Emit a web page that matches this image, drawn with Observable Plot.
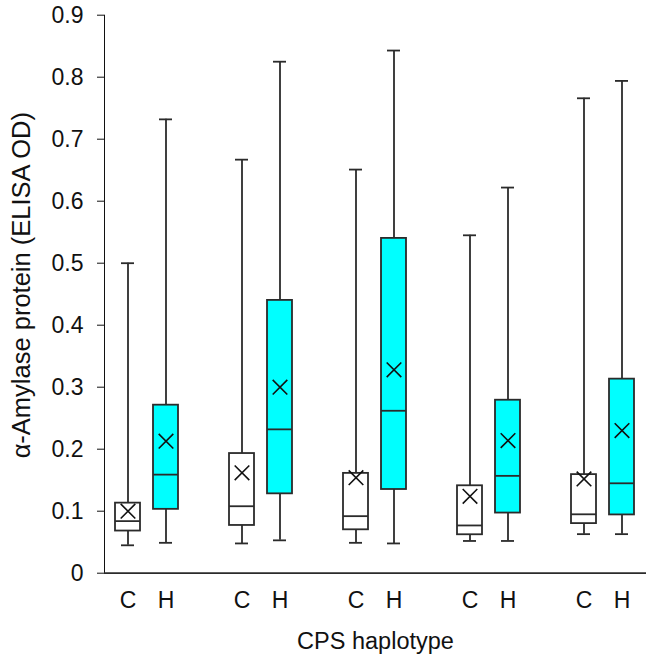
<!DOCTYPE html>
<html>
<head>
<meta charset="utf-8">
<script src="https://cdn.jsdelivr.net/npm/d3@7"></script>
<script src="https://cdn.jsdelivr.net/npm/@observablehq/plot@0.6"></script>
<style>
  html, body { margin: 0; padding: 0; background: #fff; }
  #chart { width: 646px; height: 658px; }
</style>
</head>
<body>
<div id="chart"></div>
<script>
const groups = ["1", "2", "3", "4", "5"];
const haplotypes = ["C", "H"];
const yTicks = [0, 0.1, 0.2, 0.3, 0.4, 0.5, 0.6, 0.7, 0.8, 0.9];

// C haplotype
const cMin    = [0.045, 0.048, 0.049, 0.052, 0.063];
const cQ1     = [0.068, 0.077, 0.070, 0.062, 0.080];
const cMedian = [0.084, 0.108, 0.092, 0.077, 0.095];
const cQ3     = [0.113, 0.193, 0.161, 0.141, 0.159];
const cMax    = [0.500, 0.667, 0.651, 0.545, 0.766];
const cMean   = [0.100, 0.162, 0.154, 0.124, 0.152];

// H haplotype
const hMin    = [0.049, 0.053, 0.048, 0.052, 0.063];
const hQ1     = [0.103, 0.128, 0.135, 0.097, 0.094];
const hMedian = [0.159, 0.232, 0.262, 0.157, 0.145];
const hQ3     = [0.271, 0.440, 0.540, 0.279, 0.313];
const hMax    = [0.732, 0.825, 0.843, 0.622, 0.794];
const hMean   = [0.213, 0.300, 0.328, 0.214, 0.230];

const stats = {
  C: {min: cMin, q1: cQ1, median: cMedian, q3: cQ3, max: cMax, mean: cMean},
  H: {min: hMin, q1: hQ1, median: hMedian, q3: hQ3, max: hMax, mean: hMean}
};

const rows = groups.flatMap((g, i) => haplotypes.map(h => ({
  slot: g + h, hap: h,
  min: stats[h].min[i], q1: stats[h].q1[i], median: stats[h].median[i],
  q3: stats[h].q3[i], max: stats[h].max[i], mean: stats[h].mean[i]
})));

// slot domain: C, H, spacer for each group (no spacer after the last)
const slots = groups.flatMap((g, i) =>
  i < groups.length - 1 ? [g + "C", g + "H", g + "_"] : [g + "C", g + "H"]);
const realSlots = rows.map(d => d.slot);

const ink = "#2b2b2b";
const sw = 1.8;

const chart = Plot.plot({
  width: 646,
  height: 658,
  marginLeft: 104,
  marginRight: 0,
  marginTop: 14.7,
  marginBottom: 85.3,
  style: {fontFamily: "'Liberation Sans', Arial, sans-serif", fontSize: "23px", color: "#111", background: "white"},
  x: {type: "band", domain: slots, paddingInner: 0.33, paddingOuter: 0.15,
      ticks: realSlots, tickFormat: s => s.slice(-1), tickSize: 0, tickPadding: 18, label: null},
  y: {domain: [0, 0.9], ticks: yTicks, tickFormat: d => d === 0 ? "0" : d.toFixed(1),
      tickSize: 7, tickPadding: 14, line: true, label: null},
  color: {domain: haplotypes, range: ["white", "#00ffff"]},
  marks: [
    Plot.ruleY([0], {stroke: ink, strokeWidth: sw}),
    Plot.ruleX(rows, {x: "slot", y1: "min", y2: "q1", stroke: ink, strokeWidth: sw}),
    Plot.ruleX(rows, {x: "slot", y1: "q3", y2: "max", stroke: ink, strokeWidth: sw}),
    Plot.tickY(rows, {x: "slot", y: "min", insetLeft: 6, insetRight: 6, stroke: ink, strokeWidth: sw}),
    Plot.tickY(rows, {x: "slot", y: "max", insetLeft: 6, insetRight: 6, stroke: ink, strokeWidth: sw}),
    Plot.barY(rows, {x: "slot", y1: "q1", y2: "q3", fill: "hap", stroke: ink, strokeWidth: sw}),
    Plot.tickY(rows, {x: "slot", y: "median", stroke: ink, strokeWidth: sw}),
    Plot.dot(rows, {x: "slot", y: "mean", symbol: "times", r: 6.7, stroke: "#111", strokeWidth: 1.6}),
    Plot.text(["CPS haplotype"], {frameAnchor: "bottom", dy: 76, fontSize: 23.5, fill: "#111"}),
    Plot.text(["α-Amylase protein (ELISA OD)"], {frameAnchor: "left", textAnchor: "middle", rotate: -90, dx: -83, dy: -9, fontSize: 25.5, fill: "#111"})
  ]
});

document.getElementById("chart").appendChild(chart);
</script>
</body>
</html>
